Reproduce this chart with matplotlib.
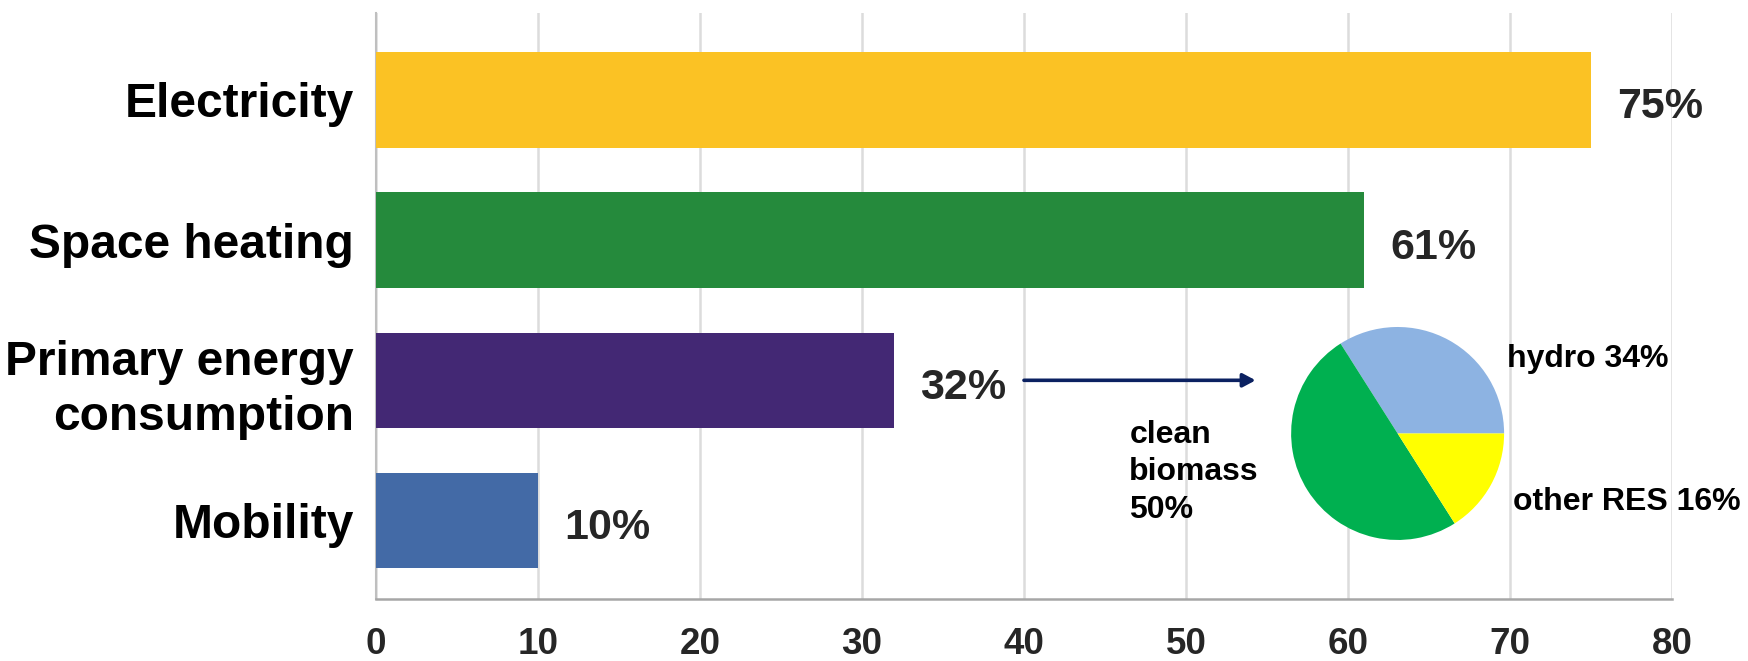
import matplotlib
matplotlib.use("Agg")
import matplotlib.pyplot as plt

# bar data
categories = ["Electricity", "Space heating", "Primary energy\nconsumption", "Mobility"]
shares = [75, 61, 32, 10]
bar_colors = ["#FBC224", "#258A3C", "#432874", "#436AA6"]
xticks = [0, 10, 20, 30, 40, 50, 60, 70, 80]

# pie data (renewable mix of primary energy)
pie_labels = ["hydro", "clean biomass", "other RES"]
pie_shares = [34, 50, 16]
pie_colors = ["#8DB3E2", "#00B050", "#FFFF00"]

FONT = "Liberation Sans"

fig = plt.figure(figsize=(17.48, 6.61), dpi=100)
ax = fig.add_axes([0.2151, 0.0938, 0.7414, 0.8865])

y = list(range(len(categories)))
ax.barh(y, shares, height=0.68, color=bar_colors, zorder=3)
ax.set_ylim(3.56, -0.62)
ax.set_xlim(0, 80)
ax.set_xticks(xticks)
ax.set_xticklabels([str(t) for t in xticks], family=FONT, fontweight="bold",
                   fontsize=26.5, color="#262626")
ax.set_yticks(y)
ax.set_yticklabels(categories, family=FONT, fontweight="bold",
                   fontsize=34.5, color="black", linespacing=1.29)
ax.tick_params(axis="x", length=0, pad=20)
ax.tick_params(axis="y", length=0, pad=16)
ax.grid(axis="x", color="#DCDCDC", linewidth=1.8, zorder=0)
for s in ["top", "right"]:
    ax.spines[s].set_visible(False)
ax.spines["left"].set_color("#BFBFBF")
ax.spines["bottom"].set_color("#A6A6A6")
ax.spines["left"].set_linewidth(1.5)
ax.spines["bottom"].set_linewidth(1.8)

for yi, v in zip(y, shares):
    ax.text(v + 1.6, yi + 0.132, f"{v}%", va="baseline", ha="left", family=FONT,
            fontweight="bold", fontsize=31, color="#262626", zorder=4)

# arrow from the primary energy bar to the pie
ax.annotate("", xy=(54.3, 2.0), xytext=(40.0, 2.0),
            arrowprops=dict(arrowstyle="-|>,head_length=0.75,head_width=0.4",
                            color="#0B2161", lw=2.6, shrinkA=0, shrinkB=0),
            zorder=5)

# pie inset
pax = fig.add_axes([0.7386, 0.1831, 0.1219, 0.3222])
pax.pie(pie_shares, colors=pie_colors, startangle=0, counterclock=True, radius=1)
pax.set_xlim(-1, 1)
pax.set_ylim(-1, 1)
pax.set_aspect("equal")
pax.axis("off")
txt = dict(family=FONT, fontweight="bold", fontsize=23, color="black", clip_on=False)
pax.text(1.028, 0.624, f"{pie_labels[0]} {pie_shares[0]}%", ha="left", va="baseline", **txt)
pax.text(1.085, -0.718, f"{pie_labels[2]} {pie_shares[2]}%", ha="left", va="baseline", **txt)
pax.text(-2.52, 0.13, "clean\nbiomass\n%d%%" % pie_shares[1], ha="left", va="top",
         linespacing=1.33, **txt)

fig.savefig("out.png", dpi=100)
